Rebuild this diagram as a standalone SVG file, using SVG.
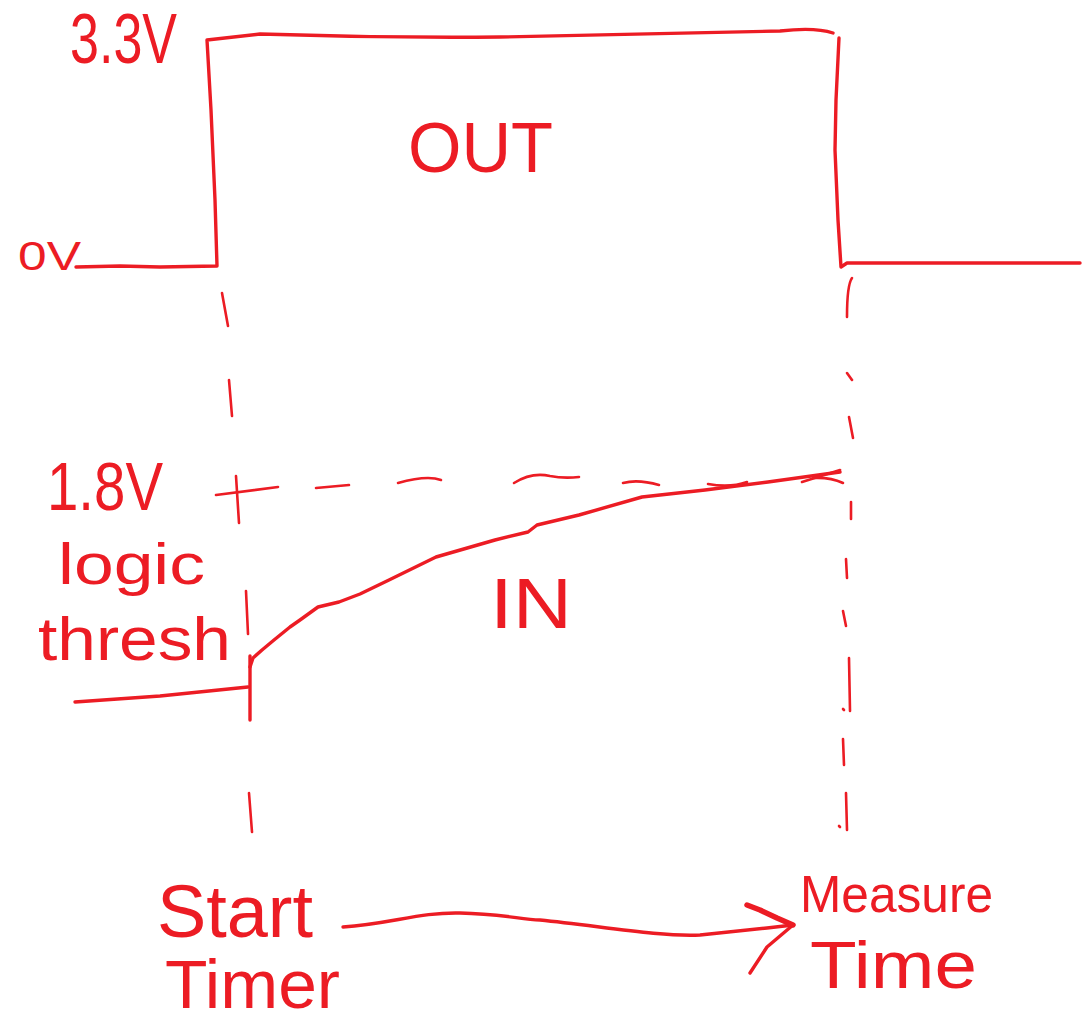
<svg xmlns="http://www.w3.org/2000/svg" width="1085" height="1026" viewBox="0 0 1085 1026">
  <style>
    .ink{fill:none;stroke:#ec1c24;stroke-width:3.4;stroke-linecap:round;stroke-linejoin:round}
    .dash{fill:none;stroke:#ec1c24;stroke-width:2.6;stroke-linecap:round;stroke-linejoin:round}
    .lbl{fill:#ec1c24;font-family:"Liberation Sans","DejaVu Sans",sans-serif;font-weight:normal}
  </style>
  <rect width="1085" height="1026" fill="#ffffff"/>

  <g id="out-waveform">
    <path class="ink" d="M76,267 L120,266 L160,267 L217,266 L215,200 L211,110 L207,40 L260,34 Q380,38 500,37 Q650,34 780,31 Q815,27 833,33"/>
    <path class="ink" d="M839,38 L836,100 L835,150 L838,220 L841,267 L847,263 L1080,263"/>
  </g>

  <g id="in-waveform">
    <path class="ink" d="M75,702 L160,696 L248,687"/>
    <path class="ink" d="M250,656 L250,720"/>
    <path class="ink" d="M250,667 L253,658 L262,650 L274,640 L290,627 L300,620 L318,607 L339,602 L360,594 L389,580 L436,557 L495,540 L528,532 L537,525 L579,515 L642,497 L705,490 L768,482 L840,472"/>
  </g>

  <g id="threshold-line">
    <path class="dash" d="M216,495 L278,487"/>
    <path class="dash" d="M236,476 L239,523"/>
    <path class="dash" d="M316,488 L349,485"/>
    <path class="dash" d="M398,483 Q427,475 441,480"/>
    <path class="dash" d="M514,483 C525,476 537,473 550,476 C560,478 570,478 579,477"/>
    <path class="dash" d="M623,483 Q638,479 659,485"/>
    <path class="dash" d="M708,484 Q730,488 747,482"/>
    <path class="dash" d="M802,482 L840,470"/>
    <path class="dash" d="M813,478 Q830,477 843,483"/>
  </g>

  <g id="start-marker">
    <path class="dash" d="M222,293 L228,326"/>
    <path class="dash" d="M229,380 L232,416"/>
    <path class="dash" d="M246,591 L248,634"/>
    <path class="dash" d="M249,793 L252,832"/>
  </g>

  <g id="stop-marker">
    <path class="dash" d="M852,278 Q847,285 847,317"/>
    <path class="dash" d="M847,373 L852,380"/>
    <path class="dash" d="M849,417 L853,438"/>
    <path class="dash" d="M851,502 L851,519"/>
    <path class="dash" d="M846,559 L847,578"/>
    <path class="dash" d="M843,611 L846,626"/>
    <path class="dash" d="M849,658 L850,711"/>
    <path class="dash" d="M843,709 L844,710"/>
    <path class="dash" d="M843,739 L844,765"/>
    <path class="dash" d="M846,793 L847,830"/>
    <path class="dash" d="M839,826 L840,827"/>
  </g>

  <g id="connectors">
    <path class="ink" d="M343,927 C390,924 420,912 460,913 C500,914 520,919 540,920 C600,926 660,937 700,935 L767,928 L793,925"/>
    <path class="ink" d="M750,973 L767,947 L793,925"/>
    <path class="ink" style="stroke-width:5.5" d="M747,905 L760,910 L777,918 L793,925"/>
  </g>

  <g id="labels">
    <text id="label-33v" class="lbl" x="70" y="63" font-size="70" textLength="107" lengthAdjust="spacingAndGlyphs">3.3V</text>
    <text id="label-0v" class="lbl" x="18" y="270" font-size="40" textLength="63" lengthAdjust="spacingAndGlyphs">0V</text>
    <text id="label-out" class="lbl" x="408" y="172" font-size="70" textLength="145" lengthAdjust="spacingAndGlyphs">OUT</text>
    <text id="label-18v" class="lbl" x="47" y="510" font-size="68" textLength="116" lengthAdjust="spacingAndGlyphs">1.8V</text>
    <text id="label-logic" class="lbl" x="58" y="584" font-size="58" textLength="147" lengthAdjust="spacingAndGlyphs">logic</text>
    <text id="label-thresh" class="lbl" x="38" y="660" font-size="62" textLength="193" lengthAdjust="spacingAndGlyphs">thresh</text>
    <text id="label-in" class="lbl" x="490" y="628" font-size="70" textLength="82" lengthAdjust="spacingAndGlyphs">IN</text>
    <text id="label-start" class="lbl" x="157" y="937" font-size="75" textLength="156" lengthAdjust="spacingAndGlyphs">Start</text>
    <text id="label-timer" class="lbl" x="165" y="1008" font-size="68" textLength="175" lengthAdjust="spacingAndGlyphs">Timer</text>
    <text id="label-measure" class="lbl" x="800" y="912" font-size="52" textLength="193" lengthAdjust="spacingAndGlyphs">Measure</text>
    <text id="label-time" class="lbl" x="810" y="988" font-size="66" textLength="167" lengthAdjust="spacingAndGlyphs">Time</text>
  </g>
</svg>
